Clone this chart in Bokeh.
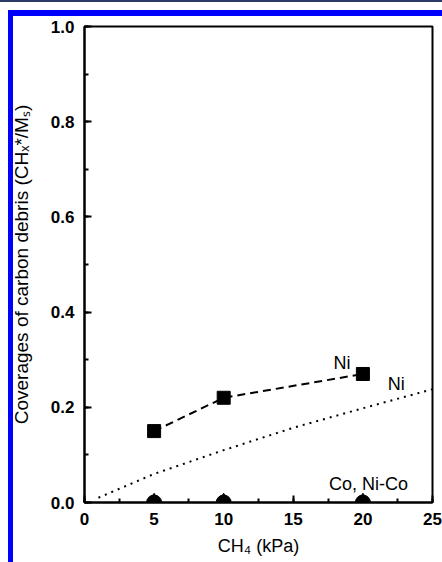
from bokeh.plotting import figure
from bokeh.models import (Range1d, SingleIntervalTicker, NumeralTickFormatter,
                          ColumnDataSource)
from bokeh.core.properties import value
from bokeh.embed import file_html
from bokeh.resources import INLINE

# ---- data ----
ni_x = [5, 10, 20]
ni_y = [0.15, 0.22, 0.27]

ni_model_x = [1, 5, 10, 15, 20, 25]
ni_model_y = [0.01, 0.06, 0.11, 0.157, 0.198, 0.238]

co_x = [5, 10, 20]
co_y = [0.0, 0.0, 0.0]
nico_x = [5, 10, 20]
nico_y = [0.0, 0.0, 0.0]

label_text = ["Ni", "Ni", "Co, Ni-Co"]
label_x = [18.5, 22.4, 20.4]
label_y = [0.294, 0.25, 0.039]

FONT = "Liberation Sans"

p = figure(width=442, height=562, output_backend="svg", toolbar_location=None,
           x_range=Range1d(0, 25), y_range=Range1d(0, 1.0),
           min_border_left=84, min_border_right=10, min_border_top=26,
           min_border_bottom=60)
p.xgrid.visible = False
p.ygrid.visible = False
p.background_fill_color = "white"
p.border_fill_color = "white"
p.border_fill_alpha = 0
p.outline_line_color = "black"
p.outline_line_width = 2
p.outline_line_alpha = 1

# page frame decorations (dark top rule, blue left/top bars) drawn as CSS background
p.styles = {
    "background": (
        "linear-gradient(#2b3a67,#2b3a67) 0px 0px/442px 2px no-repeat, "
        "linear-gradient(#0000ff,#0000ff) 8px 10px/434px 6px no-repeat, "
        "linear-gradient(#0000ff,#0000ff) 8px 10px/5px 552px no-repeat, "
        "#ffffff"
    )
}

p.xaxis.ticker = SingleIntervalTicker(interval=5, num_minor_ticks=2)
p.yaxis.ticker = SingleIntervalTicker(interval=0.2, num_minor_ticks=2)
p.yaxis.formatter = NumeralTickFormatter(format="0.0")
for ax in (p.xaxis[0], p.yaxis[0]):
    ax.axis_line_width = 2
    ax.major_tick_line_width = 2
    ax.minor_tick_line_width = 2
    ax.major_tick_in = 7
    ax.major_tick_out = 0
    ax.minor_tick_in = 4
    ax.minor_tick_out = 0
    ax.major_label_text_font = FONT
    ax.major_label_text_font_size = "17px"
    ax.major_label_text_font_style = "bold"
    ax.major_label_text_color = "black"
    ax.major_label_standoff = 10
    ax.axis_label_text_font = FONT
    ax.axis_label_text_font_style = "normal"
    ax.axis_label_text_color = "black"

p.xaxis.axis_label = "CH\u2084 (kPa)"
p.xaxis.axis_label_text_font_size = "18px"
p.xaxis.axis_label_standoff = 8
p.yaxis.axis_label = "Coverages of carbon debris (CH\u2093*/M\u209b)"
p.yaxis.axis_label_text_font_size = "19px"
p.yaxis.axis_label_standoff = 16

# model curve (dotted)
p.line(ni_model_x, ni_model_y, line_color="black", line_width=2, line_dash="2 5")
# Ni data (dashed + squares)
p.line(ni_x, ni_y, line_color="black", line_width=2, line_dash="8 5")
p.scatter(ni_x, ni_y, marker="square", size=13, fill_color="black", line_color="black")
# Co, Ni-Co data at zero
p.scatter(co_x, co_y, marker="circle", size=15, fill_color="black", line_color="black")
p.scatter(nico_x, nico_y, marker="triangle", size=16, fill_color="black", line_color="black")

src = ColumnDataSource(dict(x=label_x, y=label_y, t=label_text))
p.text(x="x", y="y", text="t", source=src, text_align="center", text_baseline="middle",
       text_font=value(FONT), text_font_size="18px", text_color="black")

open("out.html", "w").write(file_html(p, INLINE))
